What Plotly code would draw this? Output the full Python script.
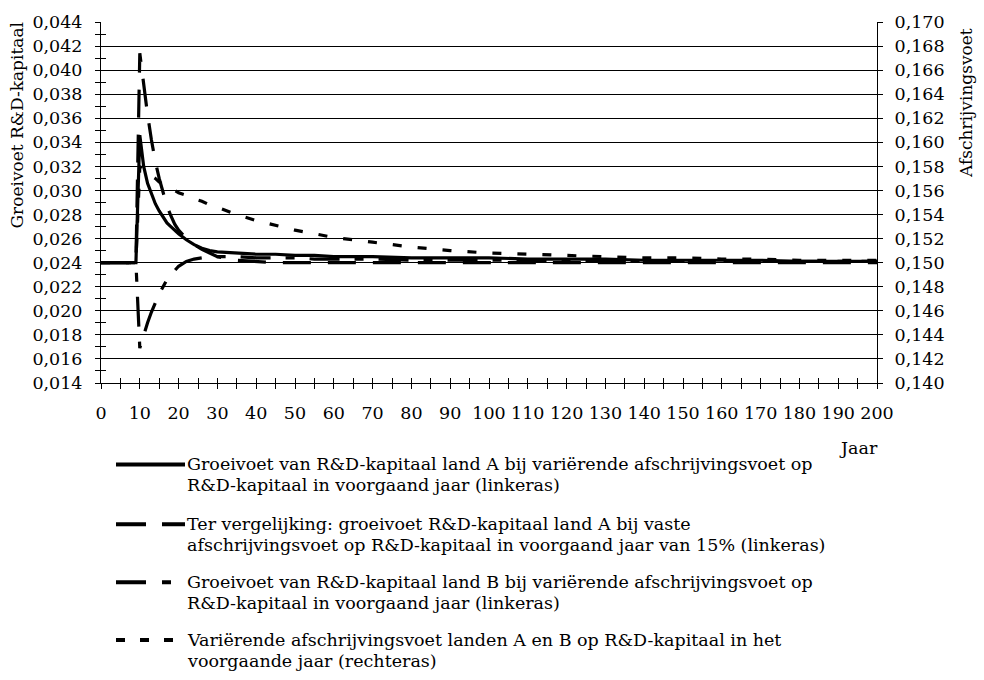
import plotly.graph_objects as go

# ---------------- data ----------------
years = [0, 9, 10, 11, 12, 13, 14, 15, 16, 17, 18, 19, 20, 22, 24, 26, 28, 30,
         35, 40, 45, 50, 55, 60, 70, 80, 90, 100, 110, 120, 130, 140, 150,
         160, 170, 180, 190, 200]

# Groeivoet R&D-kapitaal land A, variërende afschrijvingsvoet (left axis)
growth_A_varying = [0.0240, 0.0240, 0.0346, 0.0320, 0.0306, 0.0297, 0.0289, 0.0283,
                    0.0278, 0.0273, 0.0270, 0.0267, 0.0264, 0.0259, 0.0255, 0.0252,
                    0.0250, 0.0249, 0.0248, 0.0247, 0.0247, 0.0246, 0.0246, 0.0245,
                    0.0245, 0.0244, 0.0244, 0.0244, 0.0243, 0.0243, 0.0243, 0.0242,
                    0.0242, 0.0242, 0.0242, 0.0241, 0.0241, 0.0241]

# Groeivoet R&D-kapitaal land A, vaste afschrijvingsvoet 15% (left axis)
growth_A_fixed = [0.0240, 0.0240, 0.0414, 0.0386, 0.0363, 0.0342, 0.0324, 0.0310,
                  0.0298, 0.0287, 0.0279, 0.0272, 0.0267, 0.0260, 0.0255, 0.0251,
                  0.0248, 0.0245, 0.0242, 0.0241, 0.0240, 0.0240, 0.0240, 0.0240,
                  0.0240, 0.0240, 0.0240, 0.0240, 0.0240, 0.0240, 0.0240, 0.0240,
                  0.0240, 0.0240, 0.0240, 0.0240, 0.0240, 0.0240]

# Groeivoet R&D-kapitaal land B, variërende afschrijvingsvoet (left axis)
growth_B_varying = [0.0240, 0.0240, 0.0169, 0.0180, 0.0190, 0.0199, 0.0207, 0.0214,
                    0.0220, 0.0226, 0.0230, 0.0234, 0.0237, 0.0241, 0.0243, 0.0244,
                    0.0245, 0.0245, 0.0245, 0.0244, 0.0244, 0.0244, 0.0243, 0.0243,
                    0.0243, 0.0242, 0.0242, 0.0242, 0.0242, 0.0241, 0.0241, 0.0241,
                    0.0241, 0.0241, 0.0241, 0.0241, 0.0241, 0.0241]

# Variërende afschrijvingsvoet landen A en B (right axis)
depreciation_rate = [0.1500, 0.1500, 0.1580, 0.1577, 0.1575, 0.1572, 0.1570, 0.1567,
                     0.1565, 0.1563, 0.1561, 0.1560, 0.1558, 0.1556, 0.1553, 0.1551,
                     0.1548, 0.1546, 0.1540, 0.1535, 0.1531, 0.1527, 0.1524, 0.1521,
                     0.1517, 0.1513, 0.1510, 0.1508, 0.1507, 0.1506, 0.1505, 0.1504,
                     0.1504, 0.1503, 0.1503, 0.1502, 0.1502, 0.1502]

x_tick_vals = list(range(0, 201, 10))

legend_texts = [
    ["Groeivoet van R&D-kapitaal land A bij variërende afschrijvingsvoet op",
     "R&D-kapitaal in voorgaand jaar (linkeras)"],
    ["Ter vergelijking: groeivoet R&D-kapitaal land A bij vaste",
     "afschrijvingsvoet op R&D-kapitaal in voorgaand jaar van 15% (linkeras)"],
    ["Groeivoet van R&D-kapitaal land B bij variërende afschrijvingsvoet op",
     "R&D-kapitaal in voorgaand jaar (linkeras)"],
    ["Variërende afschrijvingsvoet landen A en B op R&D-kapitaal in het",
     "voorgaande jaar (rechteras)"],
]

# ---------------- styling ----------------
FONT = "DejaVu Serif"
FS = 17.5
FS_TITLE = 17
LW = 3.2
dash_solid = "solid"
dash_long = "28px,17px"
dash_longshort = "30px,15px,9px,15px"
dash_short = "9px,16px"

fig = go.Figure()
fig.add_trace(go.Scatter(x=years, y=depreciation_rate, yaxis="y2", mode="lines",
                         line=dict(color="black", width=LW, dash=dash_short),
                         showlegend=False, hoverinfo="skip"))
fig.add_trace(go.Scatter(x=years, y=growth_B_varying, mode="lines",
                         line=dict(color="black", width=LW, dash=dash_longshort),
                         showlegend=False, hoverinfo="skip"))
fig.add_trace(go.Scatter(x=years, y=growth_A_fixed, mode="lines",
                         line=dict(color="black", width=LW, dash=dash_long),
                         showlegend=False, hoverinfo="skip"))
fig.add_trace(go.Scatter(x=years, y=growth_A_varying, mode="lines",
                         line=dict(color="black", width=LW, dash=dash_solid),
                         showlegend=False, hoverinfo="skip"))
# helper trace that carries the overlay axes used for inward tick marks
fig.add_trace(go.Scatter(x=years, y=growth_A_varying, xaxis="x2", yaxis="y3",
                         mode="lines", line=dict(width=0), showlegend=False,
                         hoverinfo="skip"))

# ---------------- layout ----------------
L, R, T, B = 101, 107, 15, 297
W, H = 984, 680
pw, ph = W - L - R, H - T - B


def px_x(px):
    return (px - L) / pw


def px_y(py):
    return (H - B - py) / ph


tickfont = dict(family=FONT, size=FS, color="black")

fig.update_layout(
    width=W, height=H,
    margin=dict(l=L, r=R, t=T, b=B, pad=0),
    paper_bgcolor="white", plot_bgcolor="white",
    separators=",.",
    font=dict(family=FONT, color="black"),
    showlegend=False,
    xaxis=dict(range=[0, 200], tickvals=x_tick_vals, ticks="outside", ticklen=5,
               tickcolor="black", tickwidth=1, showline=True, linecolor="black",
               linewidth=1, showgrid=False, zeroline=False, tickfont=tickfont,
               ticklabelstandoff=9,
               minor=dict(dtick=5, tick0=0, ticks="outside", ticklen=5,
                          tickcolor="black", showgrid=False)),
    xaxis2=dict(range=[0, 200], overlaying="x", anchor="y3", side="bottom",
                dtick=5, tick0=0, ticks="inside", ticklen=5, tickcolor="black",
                showticklabels=False, showline=False, showgrid=False,
                zeroline=False),
    yaxis=dict(range=[0.014, 0.044], tick0=0.014, dtick=0.002, tickformat=".3f",
               ticks="outside", ticklen=5, tickcolor="black", showline=True,
               linecolor="black", linewidth=1, showgrid=True, gridcolor="black",
               gridwidth=1, zeroline=False, tickfont=tickfont,
               ticklabelstandoff=9,
               minor=dict(dtick=0.001, tick0=0.014, ticks="outside", ticklen=5,
                          tickcolor="black", showgrid=False)),
    yaxis2=dict(range=[0.140, 0.170], overlaying="y", side="right", anchor="x",
                tick0=0.14, dtick=0.002, tickformat=".3f", ticks="outside",
                ticklen=5, tickcolor="black", showline=True, linecolor="black",
                linewidth=1, showgrid=False, zeroline=False, tickfont=tickfont,
                ticklabelstandoff=8),
    yaxis3=dict(range=[0.014, 0.044], overlaying="y", anchor="x2", side="left",
                tick0=0.014, dtick=0.001, ticks="inside", ticklen=5,
                tickcolor="black", showticklabels=False, showline=False,
                showgrid=False, zeroline=False),
)

annotations = [
    dict(text="Groeivoet R&D-kapitaal", textangle=-90, xref="paper", yref="paper",
         x=px_x(17), y=px_y(13), xanchor="center", yanchor="top", showarrow=False,
         font=dict(family=FONT, size=FS_TITLE, color="black")),
    dict(text="Afschrijvingsvoet", textangle=-90, xref="paper", yref="paper",
         x=px_x(966), y=px_y(19), xanchor="center", yanchor="top", showarrow=False,
         font=dict(family=FONT, size=FS_TITLE, color="black")),
    dict(text="Jaar", xref="paper", yref="paper", x=px_x(858), y=px_y(449),
         xanchor="center", yanchor="middle", showarrow=False,
         font=dict(family=FONT, size=FS, color="black")),
]

shapes = []
leg_dashes = [dash_solid, "30px,16px", "30px,16px,9px,16px", "9px,15px"]
leg_y = [466, 527, 586, 645]
line_gap = 21
for i, (lines, dsh) in enumerate(zip(legend_texts, leg_dashes)):
    y0 = leg_y[i]
    shapes.append(dict(type="line", xref="paper", yref="paper",
                       x0=px_x(116), x1=px_x(185), y0=px_y(y0), y1=px_y(y0),
                       line=dict(color="black", width=4, dash=dsh)))
    for j, t in enumerate(lines):
        annotations.append(dict(text=t, xref="paper", yref="paper",
                                x=px_x(186), y=px_y(y0 + j * line_gap),
                                xanchor="left", yanchor="middle", showarrow=False,
                                borderpad=0,
                                font=dict(family=FONT, size=FS, color="black")))

fig.update_layout(annotations=annotations, shapes=shapes)

fig.write_html("out.html")
